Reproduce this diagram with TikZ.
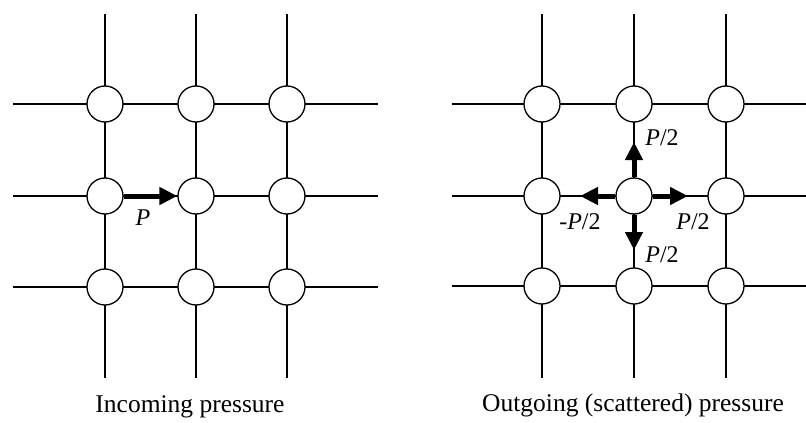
\documentclass[tikz,border=0pt]{standalone}
\usepackage{fontspec}
\setmainfont{Liberation Serif}
\usepackage{tikz}
\usetikzlibrary{arrows.meta}

\begin{document}
\begin{tikzpicture}[x=1pt, y=-1pt,
  site/.style={draw, circle, fill=white, minimum size=36pt, inner sep=0pt, line width=1.3pt},
  wire/.style={line width=1.3pt},
  arr/.style={-{Triangle[length=18pt,width=17pt]}, line width=5pt},
  lbl/.style={inner sep=0pt, font=\fontsize{24}{26}\selectfont},
  caption/.style={inner sep=0pt, anchor=base, font=\fontsize{25.5}{28}\selectfont}
]
\useasboundingbox (0,0) rectangle (806,423);
% left panel: incoming pressure
\foreach \k/\y in {1/104,2/196,3/287} {
  \coordinate (lw\k) at (13,\y);  \coordinate (le\k) at (378,\y);
  \draw[wire] (lw\k) -- (le\k);
}
\foreach \k/\x in {1/105,2/196,3/287} {
  \coordinate (ln\k) at (\x,14);  \coordinate (ls\k) at (\x,378);
  \draw[wire] (ln\k) -- (ls\k);
}
\foreach \i/\x in {1/105,2/196,3/287}
  \foreach \j/\y in {1/104,2/196,3/287}
    \node[site] (l\i\j) at (\x,\y) {};
\draw[arr] (l12.east) -- (l22.west);
\node[lbl] (lp) at (143,218) {\textit{P}};
\node[caption] (lcap) at (190,412) {Incoming pressure};
% right panel: outgoing (scattered) pressure
\foreach \k/\y in {1/104,2/196,3/286} {
  \coordinate (rw\k) at (452,\y);  \coordinate (re\k) at (810,\y);
  \draw[wire] (rw\k) -- (re\k);
}
\foreach \k/\x in {1/542,2/634,3/726} {
  \coordinate (rn\k) at (\x,14);  \coordinate (rs\k) at (\x,378);
  \draw[wire] (rn\k) -- (rs\k);
}
\foreach \i/\x in {1/542,2/634,3/726}
  \foreach \j/\y in {1/104,2/196,3/286}
    \node[site] (r\i\j) at (\x,\y) {};
\coordinate (tn) at (634,142);
\coordinate (ts) at (634,250);
\coordinate (te) at (688,196);
\coordinate (tw) at (580,196);
\draw[arr] (r22.north) -- (tn);
\draw[arr] (r22.south) -- (ts);
\draw[arr] (r22.east) -- (te);
\draw[arr] (r22.west) -- (tw);
\node[lbl] (pn) at (662,138) {\textit{P}/2};
\node[lbl] (pw) at (580,222) {-\textit{P}/2};
\node[lbl] (pe) at (693,222) {\textit{P}/2};
\node[lbl] (ps) at (662,255) {\textit{P}/2};
\node[caption] (rcap) at (633,411) {Outgoing (scattered) pressure};
\end{tikzpicture}
\end{document}
